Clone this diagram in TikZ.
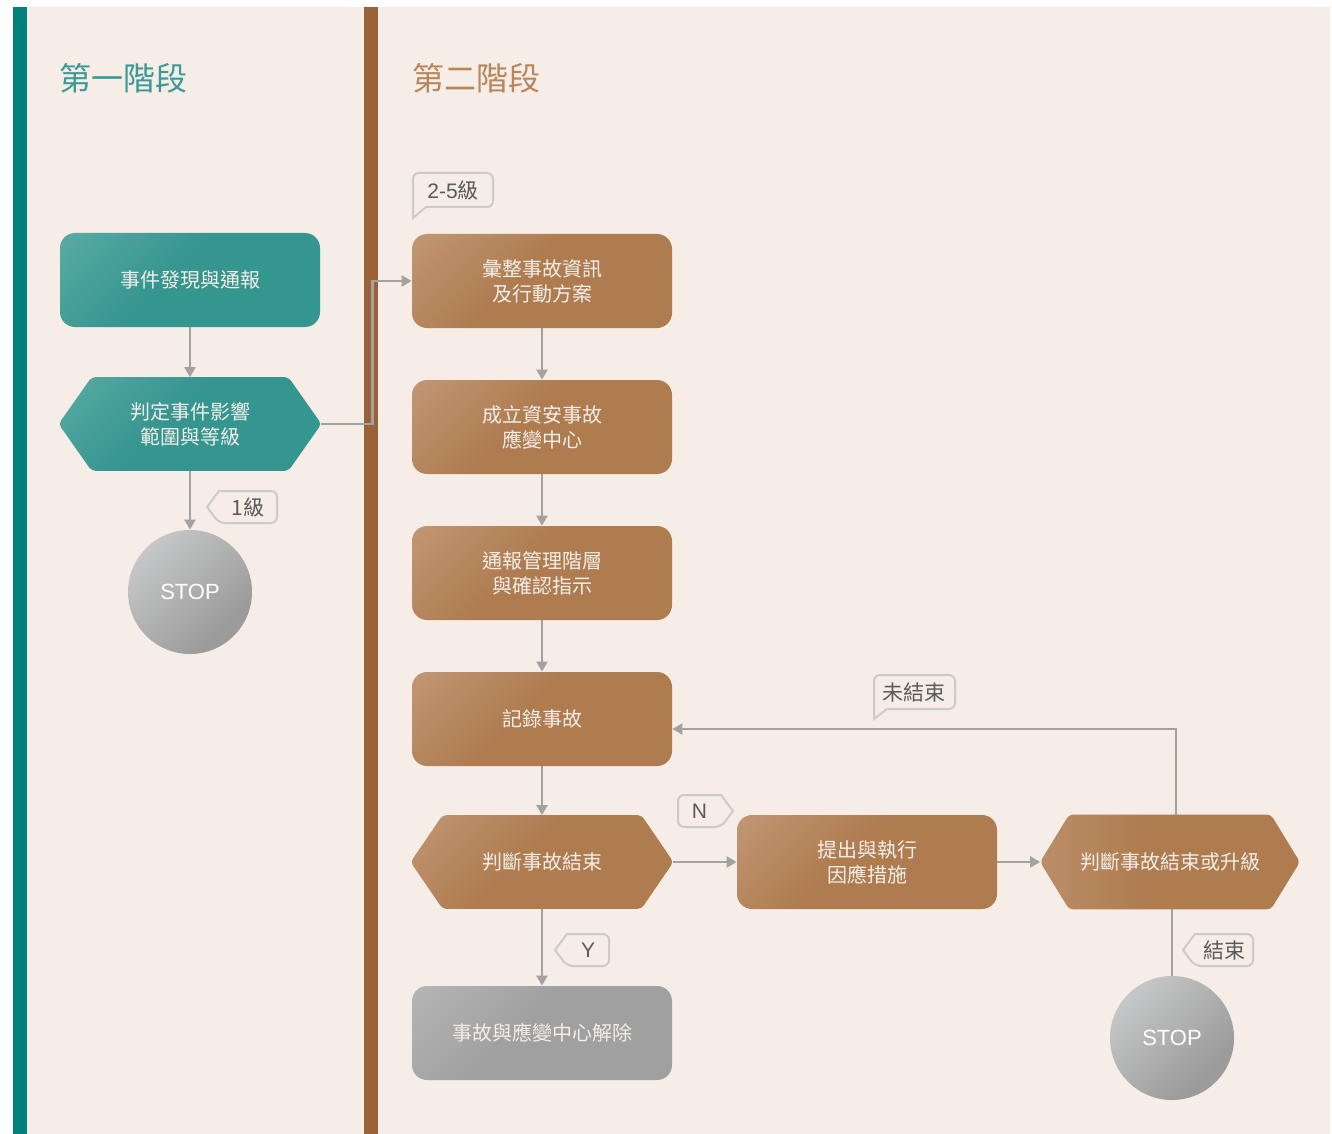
\documentclass[tikz,border=0pt]{standalone}
\usepackage{fontspec}
\setmainfont{Noto Sans CJK TC}
\newfontfamily\lat{Liberation Sans}
\usetikzlibrary{calc,arrows.meta}
\definecolor{bg}{HTML}{F5EDE6}
\definecolor{tealbar}{HTML}{00807A}
\definecolor{brownbar}{HTML}{9C6237}
\definecolor{tealT}{HTML}{3A9A96}
\definecolor{brownT}{HTML}{B8855C}
\definecolor{tealN}{HTML}{35958F}
\definecolor{tealL}{HTML}{6DB5B0}
\definecolor{brownN}{HTML}{AF7C50}
\definecolor{brownL}{HTML}{CAA486}
\definecolor{grayN}{HTML}{A0A0A0}
\definecolor{grayL}{HTML}{BEBFBF}
\definecolor{grayD}{HTML}{9B9B9B}
\definecolor{grayC}{HTML}{C6C7C8}
\definecolor{connc}{HTML}{A2A2A2}
\definecolor{tagln}{HTML}{CACCCC}
\definecolor{tagtx}{HTML}{5A5A5A}
\definecolor{ntext}{HTML}{F3EEE9}
\pgfdeclareverticalshading{tealsh}{100bp}{color(0bp)=(tealN); color(55bp)=(tealN); color(100bp)=(tealL)}
\pgfdeclareverticalshading{brownsh}{100bp}{color(0bp)=(brownN); color(55bp)=(brownN); color(100bp)=(brownL)}
\pgfdeclareverticalshading{graysh}{100bp}{color(0bp)=(grayN); color(55bp)=(grayN); color(100bp)=(grayL)}
\pgfdeclareverticalshading{circsh}{100bp}{color(0bp)=(grayD); color(30bp)=(grayD); color(75bp)=(grayC); color(100bp)=(grayC)}
\pgfdeclarehorizontalshading{brownhsh}{100bp}{color(0bp)=(brownL); color(45bp)=(brownN); color(100bp)=(brownN)}
\pgfdeclarelayer{back}
\pgfdeclarelayer{shapes}
\pgfsetlayers{back,shapes,main}
\newcommand\tagL[6]{%
  \draw[tagshape] (#3,#5-16) [rounded corners=3pt] -- (#4,#5-16) -- (#4,#5+16) -- (#3,#5+16) [sharp corners] -- (#2,#5) -- cycle;
  \node[tagtext] (#1) at ({(#3+#4)/2},#5) {#6};}
\newcommand\tagR[6]{%
  \draw[tagshape] (#3,#5-16) [rounded corners=3pt] -- (#2,#5-16) -- (#2,#5+16) -- (#3,#5+16) [sharp corners] -- (#4,#5) -- cycle;
  \node[tagtext] (#1) at ({(#2+#3)/2},#5) {#6};}
\tikzset{
  box/.style={minimum width=130pt, minimum height=47pt, rounded corners=7.5pt, inner sep=0pt,
    align=center, text=ntext, font=\fontsize{10}{12.5}\selectfont},
  tbox/.style={box, shading=tealsh, shading angle=45},
  bbox/.style={box, shading=brownsh, shading angle=45},
  gbox/.style={box, shading=graysh, shading angle=45, text=ntext},
  hexnode/.style={minimum width=131pt, minimum height=46.5pt, inner sep=0pt, align=center,
    text=ntext, font=\fontsize{10}{12.5}\selectfont},
  stopc/.style={circle, minimum size=62pt, inner sep=0pt, shading=circsh, shading angle=45,
    text=white, font=\lat\fontsize{11}{13}\selectfont},
  conn/.style={draw=connc, line width=1.2pt, -{Triangle[width=5.5pt,length=5pt]}},
  plain/.style={draw=connc, line width=1.2pt},
  tagshape/.style={draw=tagln, fill=bg, line width=1pt},
  tagtext/.style={text=tagtx, inner sep=0pt, font=\fontsize{10.5}{12}\selectfont},
  title/.style={inner sep=0pt, font=\fontsize{16}{18}\selectfont}
}
\begin{document}
\begin{tikzpicture}[x=0.5pt, y=-0.5pt]
\useasboundingbox (0,0) rectangle (1332,1134);
\begin{pgfonlayer}{back}
\fill[white] (0,0) rectangle (1332,1134);
\fill[bg] (13,7) rectangle (1330,1134);
\fill[tealbar] (13,7) rectangle (27,1134);
\fill[brownbar] (364,7) rectangle (378,1134);
\end{pgfonlayer}

\node[title, text=tealT] (t1) at (123,78) {第一階段};
\node[title, text=brownT] (t2) at (476,78) {第二階段};

\node[tbox] (n1) at (190,280) {事件發現與通報};
\node[hexnode] (h1) at (190,424) {判定事件影響\\範圍與等級};
\node[stopc] (s1) at (190,592) {STOP};

\node[bbox] (b1) at (542,281) {彙整事故資訊\\及行動方案};
\node[bbox] (b2) at (542,427) {成立資安事故\\應變中心};
\node[bbox] (b3) at (542,573) {通報管理階層\\與確認指示};
\node[bbox] (b4) at (542,719) {記錄事故};
\node[hexnode] (h2) at (542,862) {判斷事故結束};
\node[bbox] (b5) at (867,862) {提出與執行\\因應措施};
\node[hexnode, minimum width=129.5pt, minimum height=47pt] (h3) at (1170,862) {判斷事故結束或升級};
\node[gbox] (b6) at (542,1033) {事故與應變中心解除};
\node[stopc] (s2) at (1172,1038) {STOP};

\begin{pgfonlayer}{shapes}
\shade[shading=tealsh, shading angle=45, rounded corners=2pt]
  (h1.west) -- ($(h1.north west)+(33,0)$) -- ($(h1.north east)+(-33,0)$) -- (h1.east)
  -- ($(h1.south east)+(-33,0)$) -- ($(h1.south west)+(33,0)$) -- cycle;
\shade[shading=brownsh, shading angle=45, rounded corners=2pt]
  (h2.west) -- ($(h2.north west)+(32,0)$) -- ($(h2.north east)+(-32,0)$) -- (h2.east)
  -- ($(h2.south east)+(-32,0)$) -- ($(h2.south west)+(32,0)$) -- cycle;
\shade[shading=brownhsh, rounded corners=2pt]
  (h3.west) -- ($(h3.north west)+(29,0)$) -- ($(h3.north east)+(-29,0)$) -- (h3.east)
  -- ($(h3.south east)+(-29,0)$) -- ($(h3.south west)+(29,0)$) -- cycle;

\draw[conn] (n1.south) -- (h1.north);
\draw[conn] (h1.south) -- (s1.north);
\draw[conn] (h1.east) -- ($(h1.east)+(51,0)$) |- (b1.west);
\draw[conn] (b1.south) -- (b2.north);
\draw[conn] (b2.south) -- (b3.north);
\draw[conn] (b3.south) -- (b4.north);
\draw[conn] (b4.south) -- (h2.north);
\draw[conn] (h2.east) -- (b5.west);
\draw[conn] (b5.east) -- (h3.west);
\draw[conn] ($(h3.north)+(6,0)$) |- ($(b4.east)+(0,10)$);
\draw[plain] ($(h3.south)+(2,0)$) -- (s2.north);
\draw[conn] (h2.south) -- (b6.north);
\end{pgfonlayer}

\tagL{l1}{207}{219}{277}{507}{1級}
\tagL{ly}{555}{567}{609}{950}{\lat Y}
\tagL{lend}{1183}{1195}{1253}{950}{結束}
\tagR{ln}{678}{721}{733}{811}{\lat N}
\draw[tagshape] (426,207) [rounded corners=3pt] -- (493,207) -- (493,173) -- (413,173) [sharp corners] -- (413,218) -- cycle;
\node[tagtext] (l25) at (453,190) {\lat 2-5\rmfamily 級};
\draw[tagshape] (887,709) [rounded corners=3pt] -- (955,709) -- (955,675) -- (874,675) [sharp corners] -- (874,719) -- cycle;
\node[tagtext] (lno) at (914,692) {未結束};
\end{tikzpicture}
\end{document}
